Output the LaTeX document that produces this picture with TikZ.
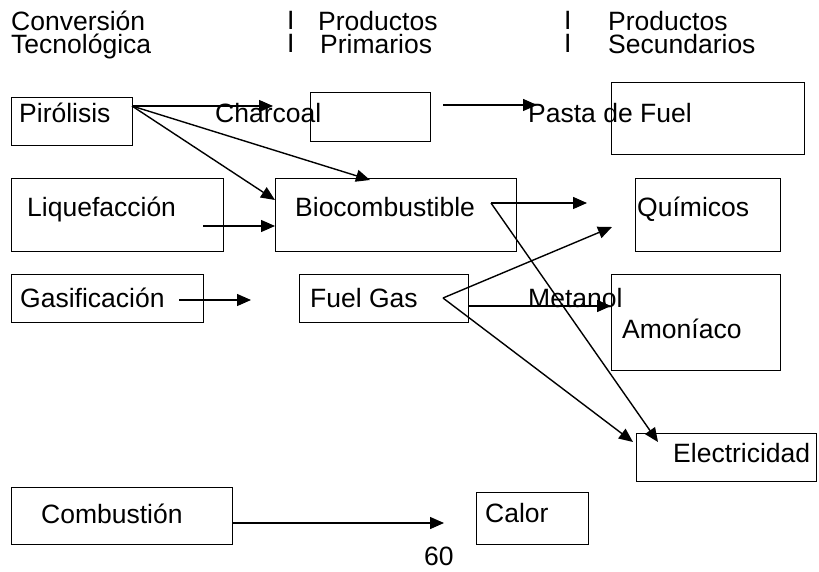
\documentclass[tikz,border=0pt]{standalone}
\usepackage{fontspec}
\setmainfont{Liberation Sans}
\usetikzlibrary{arrows.meta}
\begin{document}
\begin{tikzpicture}[x=1pt,y=-1pt,
  box/.style={draw, line width=1.4pt, rectangle, anchor=north west, inner sep=0pt},
  lbl/.style={anchor=base west, inner sep=0pt, font=\fontsize{26.5}{30}\selectfont},
  head/.style={anchor=north west, inner sep=0pt, align=left, font=\fontsize{26.5}{23}\selectfont},
  flow/.style={line width=1.4pt, -{Triangle[length=14pt,width=12pt]}}]
\useasboundingbox (0,0) rectangle (819,572);

% column headings, two lines each
\node[head] (h1) at (11,11)  {Conversión\\Tecnológica};
\node[head] (s1) at (287,11) {I\\I};
\node[head] (h2) at (318,11) {Productos\\\hspace*{2pt}Primarios};
\node[head] (s2) at (564,11) {I\\I};
\node[head] (h3) at (608,11) {Productos\\Secundarios};

% boxes
\node[box, minimum width=121pt, minimum height=48pt] (pir)   at (11,97)  {};
\node[box, minimum width=120pt, minimum height=49pt] (chb)   at (310,92) {};
\node[box, minimum width=193pt, minimum height=72pt] (pasta) at (611,82) {};
\node[box, minimum width=212pt, minimum height=73pt] (liq)   at (11,178) {};
\node[box, minimum width=241pt, minimum height=73pt] (bio)   at (275,178) {};
\node[box, minimum width=145pt, minimum height=73pt] (qui)   at (635,178) {};
\node[box, minimum width=192pt, minimum height=48pt] (gas)   at (11,274) {};
\node[box, minimum width=169pt, minimum height=48pt] (fuel)  at (299,274) {};
\node[box, minimum width=169pt, minimum height=96pt] (amo)   at (611,274) {};
\node[box, minimum width=180pt, minimum height=48pt] (elec)  at (636,433) {};
\node[box, minimum width=221pt, minimum height=57pt] (comb)  at (11,487) {};
\node[box, minimum width=112pt, minimum height=52pt] (calor) at (476,492) {};

% texts
\node[lbl] (tpir)   at (19,123)  {Pirólisis};
\node[lbl] (tchar)  at (215,123) {Charcoal};
\node[lbl] (tpasta) at (528,123) {Pasta de Fuel};
\node[lbl] (tliq)   at (27,216)  {Liquefacción};
\node[lbl] (tbio)   at (295,216) {Biocombustible};
\node[lbl] (tqui)   at (637,216) {Químicos};
\node[lbl] (tgas)   at (20,307)  {Gasificación};
\node[lbl] (tfuel)  at (310,307) {Fuel Gas};
\node[lbl] (tmet)   at (528,307) {Metanol};
\node[lbl] (tamo)   at (622,338) {Amoníaco};
\node[lbl] (telec)  at (673,462) {Electricidad};
\node[lbl] (tcomb)  at (41,523)  {Combustión};
\node[lbl] (tcalor) at (485,522) {Calor};
\node[lbl] (tpage)  at (424,565) {60};

% connector end points
\coordinate (pirO)  at (132,106);
\coordinate (charI) at (273,106);
\coordinate (bioL)  at (275,200);
\coordinate (bioT)  at (370,180);
\coordinate (chbO)  at (443,105);
\coordinate (pastaI) at (537,105);
\coordinate (liqO)  at (203,226);
\coordinate (bioI)  at (275,226);
\coordinate (bioV)  at (491,203);
\coordinate (quiA)  at (587,203);
\coordinate (quiB)  at (612,227);
\coordinate (elecB) at (658,442);
\coordinate (elecA) at (633,442);
\coordinate (gasO)  at (179,300);
\coordinate (fuelI) at (251,300);
\coordinate (fuelV) at (443,298);
\coordinate (fuelO) at (468,306);
\coordinate (amoI)  at (611,306);
\coordinate (combO) at (232,523);
\coordinate (calorI) at (444,523);

% connectors
\draw[flow] (pirO) -- (charI);
\draw[flow] (pirO) -- (bioL);
\draw[flow] (pirO) -- (bioT);
\draw[flow] (chbO) -- (pastaI);
\draw[flow] (liqO) -- (bioI);
\draw[flow] (bioV) -- (quiA);
\draw[flow] (bioV) -- (elecB);
\draw[flow] (gasO) -- (fuelI);
\draw[flow] (fuelV) -- (quiB);
\draw[flow] (fuelO) -- (amoI);
\draw[flow] (fuelV) -- (elecA);
\draw[flow] (combO) -- (calorI);
\end{tikzpicture}
\end{document}
